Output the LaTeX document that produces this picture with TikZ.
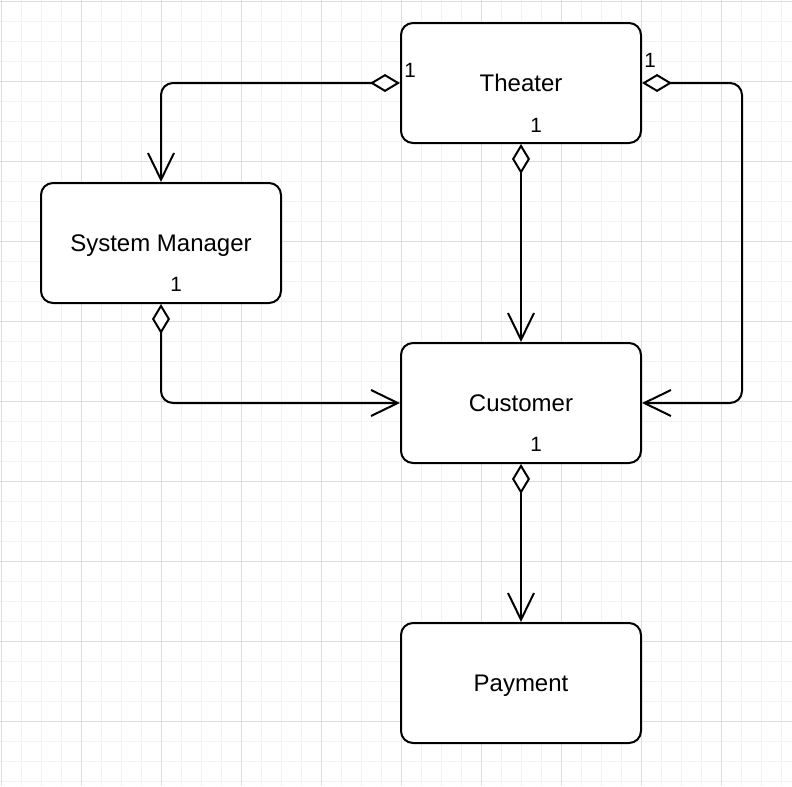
\documentclass[tikz,border=0pt]{standalone}
\usepackage{fontspec}
\setmainfont{Liberation Sans}
\usetikzlibrary{arrows.meta}
\definecolor{gridminor}{HTML}{F2F2F2}
\definecolor{gridmajor}{HTML}{DEDEDE}

\begin{document}
\begin{tikzpicture}[x=0.75pt, y=-0.75pt,
    cls/.style={draw, line width=1.5pt, rounded corners=9pt, fill=white,
      minimum width=180pt, minimum height=90pt, text height=12.9pt, text depth=0pt,
      font=\fontsize{18}{20}\selectfont},
    assoc/.style={line width=1.5pt, rounded corners=9pt,
      {Diamond[fill=white, length=22.5pt, width=13.5pt]}-{Straight Barb[length=20pt, width=19.5pt]}},
    mult/.style={inner sep=0pt, font=\fontsize{15.5}{17}\selectfont}]
    \useasboundingbox (0,0) rectangle (792,786);
    % background grid: fine every 20, coarse every 80
    \foreach \g in {0,20,...,780} {
      \draw[gridminor, line width=0.75pt] (\g+1,0) -- (\g+1,786);
      \draw[gridminor, line width=0.75pt] (0,\g+1) -- (792,\g+1);
    }
    \foreach \g in {0,80,...,780} {
      \draw[gridmajor, line width=0.75pt] (\g+1,0) -- (\g+1,786);
      \draw[gridmajor, line width=0.75pt] (0,\g+1) -- (792,\g+1);
    }
    % classes
    \node[cls] (theater)  at (521,83)  {Theater};
    \node[cls] (sysman)   at (161,243) {System Manager};
    \node[cls] (customer) at (521,403) {Customer};
    \node[cls] (payment)  at (521,683) {Payment};
    % aggregations
    \draw[assoc] (theater.west) -| (sysman.north);
    \draw[assoc] (theater.east) -- ++(100,0) |- (customer.east);
    \draw[assoc] (theater.south) -- (customer.north);
    \draw[assoc] (sysman.south) |- (customer.west);
    \draw[assoc] (customer.south) -- (payment.north);
    % multiplicities
    \node[mult] (m1) at (410,70)  {1};
    \node[mult] (m2) at (650,60)  {1};
    \node[mult] (m3) at (536,125) {1};
    \node[mult] (m4) at (176,284) {1};
    \node[mult] (m5) at (536,444) {1};
\end{tikzpicture}
\end{document}
